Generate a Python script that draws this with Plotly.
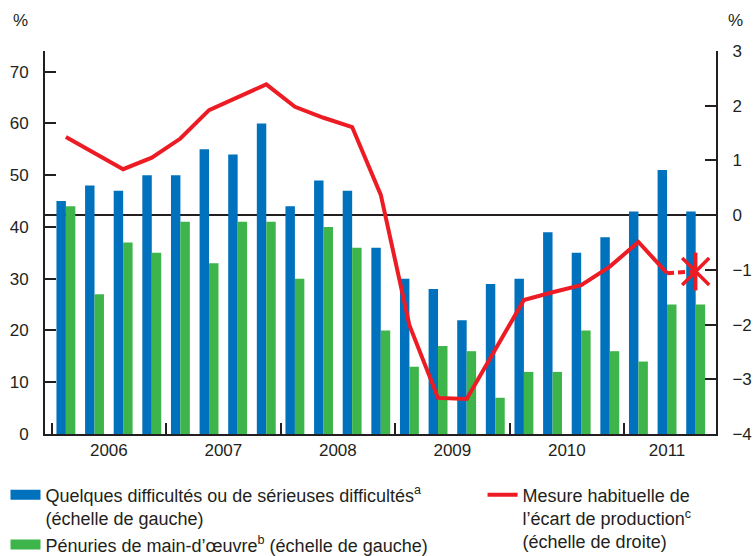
import plotly.graph_objects as go

# Données trimestrielles : 2006 T1 à 2011 T3
trimestres = list(range(23))
annees = ["2006", "2007", "2008", "2009", "2010", "2011"]
pos_annees = [1.5, 5.5, 9.5, 13.5, 17.5, 21.0]

difficultes = [45, 48, 47, 50, 50, 55, 54, 60, 44, 49, 47, 36,
               30, 28, 22, 29, 30, 39, 35, 38, 43, 51, 43]
penuries = [44, 27, 37, 35, 41, 33, 41, 41, 30, 40, 36, 20,
            13, 17, 16, 7, 12, 12, 20, 16, 14, 25, 25]
# écart de production (échelle de droite), jusqu'à 2011 T2
ecart = [1.43, 1.13, 0.84, 1.05, 1.40, 1.92, 2.16, 2.39, 1.98, 1.78, 1.61, 0.37,
         -2.01, -3.34, -3.36, -2.44, -1.55, -1.41, -1.28, -0.94, -0.49, -1.06]
ecart_estim = -1.03  # 2011 T3, estimation

BLEU = "#0071BC"
VERT = "#3DB54A"
ROUGE = "#ED1C24"
NOIR = "#231F20"
FONT = "Liberation Sans"

fig = go.Figure()

fig.add_trace(go.Bar(x=trimestres, y=difficultes, marker_color=BLEU,
                     marker_line_width=0, showlegend=False))
fig.add_trace(go.Bar(x=trimestres, y=penuries, marker_color=VERT,
                     marker_line_width=0, showlegend=False))

# ligne rouge (échelle de droite)
fig.add_trace(go.Scatter(x=trimestres[:len(ecart)], y=ecart, yaxis="y2", mode="lines",
                         line=dict(color=ROUGE, width=4), showlegend=False))
fig.add_trace(go.Scatter(x=trimestres[len(ecart) - 1:], y=[ecart[-1], ecart_estim], yaxis="y2",
                         mode="lines", line=dict(color=ROUGE, width=4, dash="7px,4px"),
                         showlegend=False))
# astérisque : x + trait vertical
for sym in ["x-thin-open", "line-ns-open"]:
    fig.add_trace(go.Scatter(x=[trimestres[-1]], y=[ecart_estim], yaxis="y2", mode="markers",
                             marker=dict(symbol=sym, size=27, color=ROUGE,
                                         line=dict(color=ROUGE, width=3.5)),
                             showlegend=False))

# entrées de légende (traces vides, seulement pour la légende)
fig.add_trace(go.Scatter(x=[trimestres[0]], y=[None], mode="lines", line=dict(color=BLEU, width=14),
                         name="Quelques difficultés ou de sérieuses difficultés<sup>a</sup><br>(échelle de gauche)",
                         legend="legend"))
fig.add_trace(go.Scatter(x=[trimestres[0]], y=[None], mode="lines", line=dict(color=VERT, width=14),
                         name="Pénuries de main-d’œuvre<sup>b</sup> (échelle de gauche)",
                         legend="legend"))
fig.add_trace(go.Scatter(x=[trimestres[0]], y=[None], mode="lines", line=dict(color=ROUGE, width=4),
                         name="Mesure habituelle de<br>l’écart de production<sup>c</sup><br>(échelle de droite)",
                         legend="legend2"))

fig.update_layout(
    width=754, height=556,
    margin=dict(l=45, r=37.5, t=51, b=122, autoexpand=False),
    plot_bgcolor="white", paper_bgcolor="white",
    font=dict(family=FONT, size=17, color=NOIR),
    barmode="group", bargap=0.34, bargroupgap=0,
    xaxis=dict(range=[-0.73, 22.71], tickmode="array", tickvals=pos_annees, ticktext=annees,
               ticks="", showgrid=False, zeroline=False, showline=True, linecolor=NOIR, linewidth=2,
               tickangle=0,
               minor=dict(tick0=-0.5, dtick=4, ticks="inside", ticklen=11,
                          tickwidth=2, tickcolor=NOIR, showgrid=False)),
    yaxis=dict(range=[0, 74], tickvals=[0, 10, 20, 30, 40, 50, 60, 70], ticks="inside", ticklen=11,
               tickwidth=2, tickcolor=NOIR, showgrid=False, zeroline=False, showline=True,
               linecolor=NOIR, linewidth=2, ticklabelstandoff=11),
    yaxis2=dict(range=[-4, 3], tickvals=[-4, -3, -2, -1, 0, 1, 2, 3], overlaying="y", side="right",
                ticks="inside", ticklen=11, tickwidth=2, tickcolor=NOIR, showgrid=False,
                zeroline=True, zerolinecolor=NOIR, zerolinewidth=1.5, showline=True,
                linecolor=NOIR, linewidth=2, ticklabelstandoff=11),
    legend=dict(xref="container", yref="container", x=0.0073, y=0.143, xanchor="left", yanchor="top",
                orientation="v", valign="top", font=dict(size=18), tracegroupgap=0,
                bgcolor="rgba(0,0,0,0)"),
    legend2=dict(xref="container", yref="container", x=0.640, y=0.143, xanchor="left", yanchor="top",
                 orientation="v", valign="top", font=dict(size=18),
                 bgcolor="rgba(0,0,0,0)"),
    annotations=[
        dict(text="%", xref="paper", yref="paper", x=0, y=1, xshift=-25, yshift=31,
             xanchor="center", yanchor="middle", showarrow=False, font=dict(size=17)),
        dict(text="%", xref="paper", yref="paper", x=1, y=1, xshift=19, yshift=31,
             xanchor="center", yanchor="middle", showarrow=False, font=dict(size=17)),
    ],
)

# la page par défaut a une marge de 8 px autour du graphique
fig.write_html("out.html", config={"displayModeBar": False},
               post_script="document.body.style.margin='0';")
